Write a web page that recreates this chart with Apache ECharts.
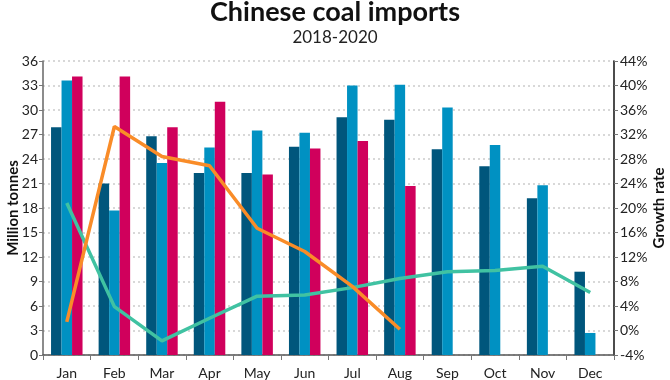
<!DOCTYPE html>
<html><head><meta charset="utf-8">
<script src="https://cdn.jsdelivr.net/npm/echarts@6/dist/echarts.min.js"></script>
<style>html,body{margin:0;padding:0;background:#fff}#c{width:670px;height:380px}</style>
</head><body><div id="c"></div>
<script>
var months = ['Jan','Feb','Mar','Apr','May','Jun','Jul','Aug','Sep','Oct','Nov','Dec'];
var imports2018 = [27.9, 21.0, 26.8, 22.3, 22.3, 25.5, 29.1, 28.8, 25.2, 23.1, 19.2, 10.2];
var imports2019 = [33.6, 17.7, 23.5, 25.4, 27.5, 27.2, 33.0, 33.1, 30.3, 25.7, 20.8, 2.7];
var imports2020 = [34.1, 34.1, 27.9, 31.0, 22.1, 25.3, 26.2, 20.7, null, null, null, null];
var growth2020 = [1.4, 33.3, 28.4, 26.9, 16.7, 12.9, 7.2, 0.2, null, null, null, null];
var growth2019 = [20.8, 3.9, -1.7, 2.0, 5.6, 5.8, 7.0, 8.5, 9.6, 9.8, 10.5, 6.2];
var leftTicks = {min: 0, max: 36, interval: 3};
var rightTicks = {min: -4, max: 44, interval: 4};

var font = 'Lato, "Noto Sans", sans-serif';
var chart = echarts.init(document.getElementById('c'), null, {renderer: 'canvas'});
function bar(name, data, color) {
  return {type: 'bar', name: name, data: data, barWidth: 10.5, barGap: '0%',
    itemStyle: {color: color}};
}
chart.setOption({
  animation: false,
  backgroundColor: '#fff',
  title: {
    text: 'Chinese coal imports', subtext: '2018-2020', left: 'center', top: -6,
    textStyle: {fontFamily: font, fontSize: 27, fontWeight: 'bold', color: '#111'},
    subtextStyle: {fontFamily: font, fontSize: 17, color: '#222'},
    itemGap: 3
  },
  grid: {left: 43, right: 56, top: 61, bottom: 25, containLabel: false, outerBoundsMode: 'none'},
  xAxis: {
    type: 'category', data: months,
    axisLine: {lineStyle: {color: '#555', width: 1.5}},
    axisTick: {show: true, alignWithLabel: false, length: 5, lineStyle: {color: '#777'}},
    axisLabel: {fontFamily: font, fontSize: 14, color: '#222', margin: 11}
  },
  yAxis: [{
    type: 'value', min: leftTicks.min, max: leftTicks.max, interval: leftTicks.interval,
    name: 'Million tonnes', nameLocation: 'middle', nameGap: 22, nameRotate: 90, nameMoveOverlap: false,
    nameTextStyle: {fontFamily: font, fontSize: 15, fontWeight: 'bold', color: '#111'},
    axisLine: {show: true, lineStyle: {color: '#666', width: 1.5}},
    axisTick: {show: true, length: 4, lineStyle: {color: '#777'}},
    axisLabel: {fontFamily: font, fontSize: 14, color: '#222', margin: 5},
    splitLine: {show: true, lineStyle: {color: '#ccc', type: [2, 3], width: 1.5}}
  }, {
    type: 'value', min: rightTicks.min, max: rightTicks.max, interval: rightTicks.interval,
    name: 'Growth rate', nameLocation: 'middle', nameGap: 38, nameRotate: 90, nameMoveOverlap: false,
    nameTextStyle: {fontFamily: font, fontSize: 15, fontWeight: 'bold', color: '#111'},
    axisLine: {show: true, lineStyle: {color: '#111', width: 1.5}},
    axisTick: {show: true, length: 4, lineStyle: {color: '#777'}},
    axisLabel: {fontFamily: font, fontSize: 14, color: '#222', margin: 6, formatter: '{value}%'},
    splitLine: {show: false}
  }],
  series: [
    bar('2018', imports2018, '#00567c'),
    bar('2019', imports2019, '#0091c2'),
    bar('2020', imports2020, '#d0005c'),
    {type: 'line', name: 'Growth 2019', yAxisIndex: 1, data: growth2019, showSymbol: false, symbol: 'none',
      lineStyle: {color: '#40c2a2', width: 3.5}},
    {type: 'line', name: 'Growth 2020', yAxisIndex: 1, data: growth2020, showSymbol: false, symbol: 'none',
      lineStyle: {color: '#f98c28', width: 3.5}}
  ]
});
</script></body></html>
